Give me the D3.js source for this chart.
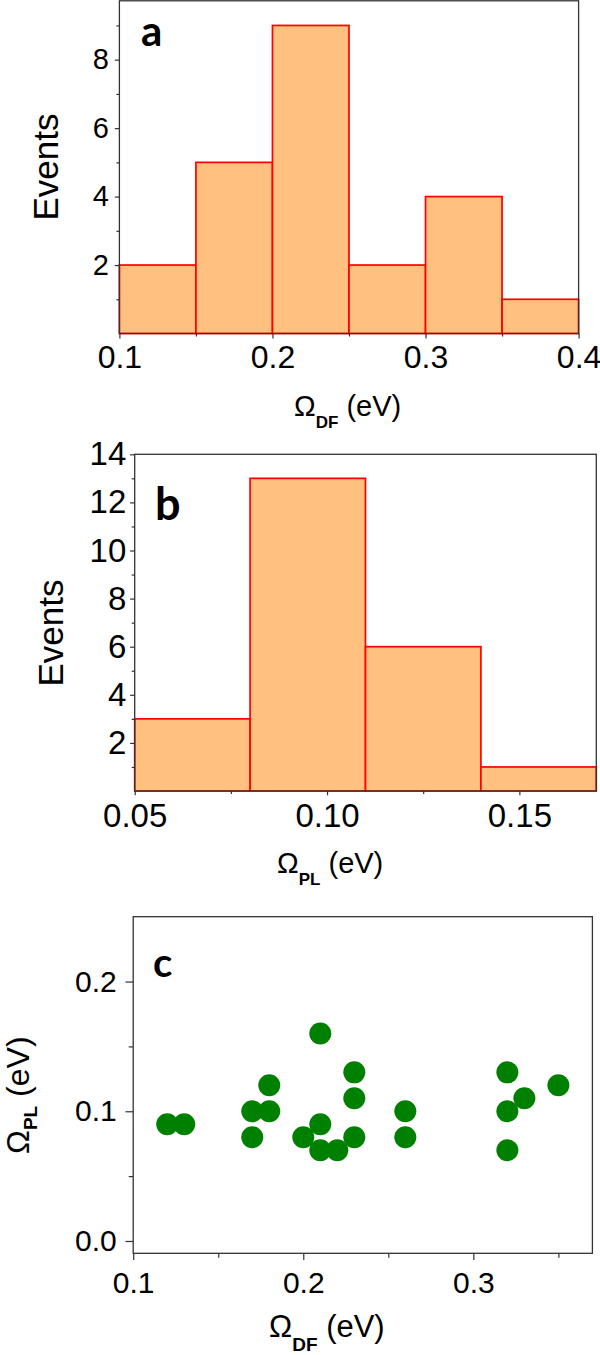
<!DOCTYPE html>
<html>
<head>
<meta charset="utf-8">
<script src="https://cdn.jsdelivr.net/npm/d3@7"></script>
<style>
  body { margin: 0; background: #fff; }
  svg text { font-family: "Liberation Sans", Arial, sans-serif; fill: #000; }
</style>
</head>
<body>
<div id="chart"></div>
<script>
// ---- panel a : histogram of Omega_DF
const edgesA = [0.10, 0.15, 0.20, 0.25, 0.30, 0.35, 0.40];
const countsA = [2, 5, 9, 2, 4, 1];
const xTicksA = [0.1, 0.2, 0.3, 0.4];
const xLabelsA = ["0.1", "0.2", "0.3", "0.4"];
const xMinorA = [0.15, 0.25, 0.35];
const yTicksA = [2, 4, 6, 8];
const yLabelsA = ["2", "4", "6", "8"];
const yMinorA = [1, 3, 5, 7, 9];

// ---- panel b : histogram of Omega_PL
const edgesB = [0.05, 0.08, 0.11, 0.14, 0.17];
const countsB = [3, 13, 6, 1];
const xTicksB = [0.05, 0.10, 0.15];
const xLabelsB = ["0.05", "0.10", "0.15"];
const xMinorB = [0.075, 0.125];
const yTicksB = [2, 4, 6, 8, 10, 12, 14];
const yLabelsB = ["2", "4", "6", "8", "10", "12", "14"];
const yMinorB = [1, 3, 5, 7, 9, 11, 13];

// ---- panel c : Omega_PL vs Omega_DF
const omegaDF = [0.12, 0.13, 0.17, 0.17, 0.18, 0.18, 0.20, 0.21, 0.21, 0.21, 0.22,
                 0.23, 0.23, 0.23, 0.26, 0.26, 0.32, 0.32, 0.32, 0.33, 0.35];
const omegaPL = [0.09, 0.09, 0.10, 0.08, 0.10, 0.12, 0.08, 0.16, 0.09, 0.07, 0.07,
                 0.13, 0.11, 0.08, 0.10, 0.08, 0.13, 0.10, 0.07, 0.11, 0.12];
const xTicksC = [0.1, 0.2, 0.3];
const xLabelsC = ["0.1", "0.2", "0.3"];
const xMinorC = [0.15, 0.25, 0.35];
const yTicksC = [0.0, 0.1, 0.2];
const yLabelsC = ["0.0", "0.1", "0.2"];
const yMinorC = [0.05, 0.15];

const AXIS = "#333";
const BAR_FILL = "#FFC080";
const BAR_LINE = "#FF0000";
const DOT = "#008000";

const svg = d3.select("#chart").append("svg")
  .attr("width", 600)
  .attr("height", 1355);

// ticks, tick labels and the closed frame round a plot area
function drawAxes(g, x, y, o) {
  const [left, right] = x.range();
  const [bottom, top] = y.range();

  g.append("g")
    .attr("transform", `translate(0,${bottom})`)
    .call(d3.axisBottom(x).tickValues(o.xMinor).tickSize(o.minor).tickFormat(""));
  g.append("g")
    .attr("transform", `translate(${left},0)`)
    .call(d3.axisLeft(y).tickValues(o.yMinor).tickSize(o.minor).tickFormat(""));

  const xa = g.append("g")
    .attr("transform", `translate(0,${bottom})`)
    .call(d3.axisBottom(x).tickValues(o.xTicks).tickFormat((d, i) => o.xLabels[i])
      .tickSize(o.xTick).tickPadding(o.xPad));
  const ya = g.append("g")
    .attr("transform", `translate(${left},0)`)
    .call(d3.axisLeft(y).tickValues(o.yTicks).tickFormat((d, i) => o.yLabels[i])
      .tickSize(o.yTick).tickPadding(o.yPad));

  g.selectAll(".domain").remove();
  g.selectAll(".tick line").attr("stroke", AXIS).attr("stroke-width", 1.2);
  g.selectAll("g").attr("font-family", null).attr("font-size", null);
  xa.selectAll("text").attr("font-size", o.xFont);
  ya.selectAll("text").attr("font-size", o.yFont);

  g.append("rect")
    .attr("x", left).attr("y", top)
    .attr("width", right - left).attr("height", bottom - top)
    .attr("fill", "none")
    .attr("stroke", AXIS)
    .attr("stroke-width", 1.3);
}

function drawBars(g, x, y, edges, counts) {
  g.selectAll("rect.bar")
    .data(counts)
    .enter()
    .append("rect")
    .attr("class", "bar")
    .attr("x", (d, i) => x(edges[i]))
    .attr("width", (d, i) => x(edges[i + 1]) - x(edges[i]))
    .attr("y", d => y(d))
    .attr("height", d => y(0) - y(d))
    .attr("fill", BAR_FILL)
    .attr("stroke", BAR_LINE)
    .attr("stroke-width", 1.7);
}

// "Ω_sub (eV)" axis title
function omegaTitle(t, sub, size, subSize, subDy) {
  t.attr("font-size", size);
  t.append("tspan").text("Ω");
  t.append("tspan").text(sub)
    .attr("font-size", subSize)
    .attr("font-weight", "bold")
    .attr("dy", subDy);
  t.append("tspan").text(" (eV)").attr("dy", -subDy);
}

function panelLetter(x0, y0, txt, size) {
  svg.append("text")
    .attr("x", x0).attr("y", y0)
    .attr("font-size", size)
    .attr("font-weight", "bold")
    .style("font-family", "Lato, 'Open Sans', sans-serif")
    .text(txt);
}

// ---------- a
{
  const x = d3.scaleLinear().domain([0.1, 0.4]).range([119.4, 578.6]);
  const y = d3.scaleLinear().domain([0, 9.72]).range([333.5, 0.8]);
  const g = svg.append("g");
  drawBars(g, x, y, edgesA, countsA);
  drawAxes(g, x, y, {
    xTicks: xTicksA, xLabels: xLabelsA, xMinor: xMinorA,
    yTicks: yTicksA, yLabels: yLabelsA, yMinor: yMinorA,
    xTick: 5, xPad: 6.7, yTick: 4.6, yPad: 5.8, minor: 3,
    xFont: 32, yFont: 29
  });
  svg.append("text")
    .attr("transform", "translate(58,167) rotate(-90)")
    .attr("text-anchor", "middle")
    .attr("font-size", 35)
    .text("Events");
  omegaTitle(svg.append("text").attr("x", 294).attr("y", 416), "DF", 29, 17, 12);
  panelLetter(141, 45.5, "a", 42);
}

// ---------- b
{
  const x = d3.scaleLinear().domain([0.05, 0.17]).range([134.7, 596.3]);
  const y = d3.scaleLinear().domain([0, 14]).range([791, 454.3]);
  const g = svg.append("g");
  drawBars(g, x, y, edgesB, countsB);
  drawAxes(g, x, y, {
    xTicks: xTicksB, xLabels: xLabelsB, xMinor: xMinorB,
    yTicks: yTicksB, yLabels: yLabelsB, yMinor: yMinorB,
    xTick: 4.3, xPad: 8.3, yTick: 4.6, yPad: 3.8, minor: 3,
    xFont: 33, yFont: 33
  });
  svg.append("text")
    .attr("transform", "translate(63,633) rotate(-90)")
    .attr("text-anchor", "middle")
    .attr("font-size", 35)
    .text("Events");
  omegaTitle(svg.append("text").attr("x", 277).attr("y", 873), "PL", 29, 17, 12);
  panelLetter(155, 520, "b", 45);
}

// ---------- c
{
  const x = d3.scaleLinear().domain([0.1, 0.37]).range([133.2, 592.4]);
  const y = d3.scaleLinear().domain([-0.0095, 0.25]).range([1253.3, 916.7]);
  const g = svg.append("g");
  drawAxes(g, x, y, {
    xTicks: xTicksC, xLabels: xLabelsC, xMinor: xMinorC,
    yTicks: yTicksC, yLabels: yLabelsC, yMinor: yMinorC,
    xTick: 6.7, xPad: 11.7, yTick: 7.7, yPad: 8.8, minor: 4.5,
    xFont: 30, yFont: 30
  });
  g.selectAll("circle")
    .data(omegaDF)
    .enter()
    .append("circle")
    .attr("cx", d => x(d))
    .attr("cy", (d, i) => y(omegaPL[i]))
    .attr("r", 11)
    .attr("fill", DOT);
  omegaTitle(svg.append("text").attr("transform", "translate(29,1154) rotate(-90)"), "PL", 32, 19, 8);
  omegaTitle(svg.append("text").attr("x", 269).attr("y", 1337), "DF", 31, 19, 14);
  panelLetter(153, 976.7, "c", 40);
}
</script>
</body>
</html>
